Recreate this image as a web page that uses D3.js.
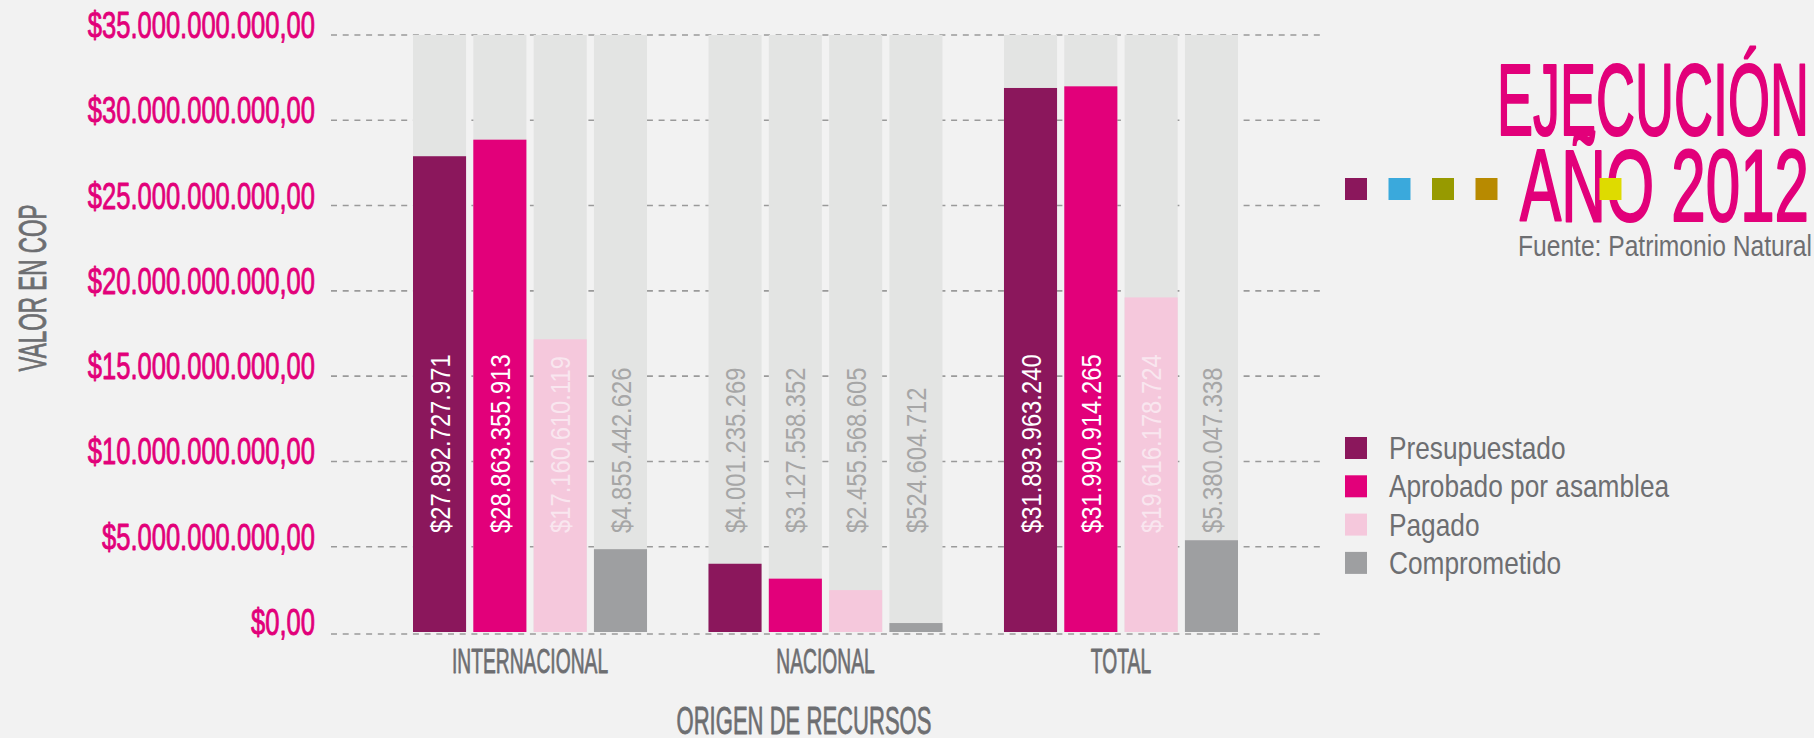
<!DOCTYPE html>
<html>
<head>
<meta charset="utf-8">
<script src="https://cdn.jsdelivr.net/npm/d3@7"></script>
<style>
  html, body { margin: 0; padding: 0; background: #f2f2f2; }
  svg { display: block; }
  text { font-family: "Liberation Sans", Arial, sans-serif; }
</style>
</head>
<body>
<svg id="chart" width="1814" height="738"></svg>
<script>
// Ejecución año 2012, valores en COP
const categories = ["INTERNACIONAL", "NACIONAL", "TOTAL"];
const seriesNames = ["Presupuestado", "Aprobado por asamblea", "Pagado", "Comprometido"];
const presupuestado = [27892727971, 4001235269, 31893963240];
const aprobado = [28863355913, 3127558352, 31990914265];
const pagado = [17160610119, 2455568605, 19616178724];
const comprometido = [4855442626, 524604712, 5380047338];
const yTicks = [0, 5e9, 10e9, 15e9, 20e9, 25e9, 30e9, 35e9];
const yMax = 35e9;

const seriesColors = ["#8b175c", "#e2007a", "#f5c8dc", "#9e9fa1"];
const labelColors = ["#ffffff", "#ffffff", "#f9e6ef", "#a6a6a6"];
const dotColors = ["#8b175c", "#3aa9dc", "#979a00", "#b88a00", "#dedb00"];

const values = [presupuestado, aprobado, pagado, comprometido];

const svg = d3.select("#chart");
const magenta = "#e2007a", grey = "#6d6e71";

const locale = d3.formatLocale({decimal: ",", thousands: ".", grouping: [3], currency: ["$", ""]});
const fmtTick = locale.format("$,.2f");
const fmtVal = locale.format("$,.0f");

// squeeze text horizontally to mimic the condensed face
function squeeze(sel, ratio) {
    sel.each(function() {
        let len = this.getComputedTextLength();
        d3.select(this).attr("textLength", len * ratio).attr("lengthAdjust", "spacingAndGlyphs");
    });
}
function fitTo(sel, width) {
    sel.attr("textLength", width).attr("lengthAdjust", "spacingAndGlyphs");
}
// fake the heavier weight of the condensed face
function heavy(sel, color, w) {
    sel.attr("stroke", color).attr("stroke-width", w).attr("stroke-linejoin", "round");
}

let y = d3.scaleLinear().domain([0, yMax]).range([632, 35]);
let x0 = d3.scaleBand().domain(categories).range([413, 1238]).paddingInner(0.208);
let x1 = d3.scaleBand().domain(d3.range(seriesNames.length)).range([0, x0.bandwidth()]).paddingInner(0.12);

// grid
svg.append("g").selectAll("line")
    .data(yTicks)
    .join("line")
    .attr("x1", 331).attr("x2", 1325)
    .attr("y1", d => y(d) + (d === 0 ? 2 : 0))
    .attr("y2", d => y(d) + (d === 0 ? 2 : 0))
    .attr("stroke", "#9a9a9a")
    .attr("stroke-width", 1.6)
    .attr("stroke-dasharray", "6,5.7");

// y tick labels
svg.append("g").selectAll("text")
    .data(yTicks)
    .join("text")
    .attr("x", 315)
    .attr("y", d => y(d) + 3)
    .attr("text-anchor", "end")
    .attr("font-size", 37)
    .attr("fill", magenta)
    .text(d => fmtTick(d))
    .call(squeeze, 0.69)
    .call(heavy, magenta, 0.9);

// bars
let groups = svg.append("g").selectAll("g")
    .data(categories)
    .join("g")
    .attr("transform", d => `translate(${x0(d)},0)`);

let cells = groups.selectAll("g")
    .data((c, ci) => values.map((s, si) => ({si, value: s[ci]})))
    .join("g");

cells.append("rect")
    .attr("x", d => x1(d.si))
    .attr("width", x1.bandwidth())
    .attr("y", y(yMax))
    .attr("height", y(0) - y(yMax))
    .attr("fill", "#e3e4e3");

cells.append("rect")
    .attr("x", d => x1(d.si))
    .attr("width", x1.bandwidth())
    .attr("y", d => y(d.value))
    .attr("height", d => y(0) - y(d.value))
    .attr("fill", d => seriesColors[d.si]);

let labelStart = 533;
cells.append("text")
    .attr("transform", d => `translate(${x1(d.si) + x1.bandwidth() / 2},${labelStart}) rotate(-90)`)
    .attr("dy", "0.36em")
    .attr("font-size", 28)
    .text(d => fmtVal(d.value))
    .call(squeeze, 0.85)
    .attr("fill", function(d) {
        let top = labelStart - this.getComputedTextLength();
        return y(d.value) <= top ? labelColors[d.si] : "#a6a6a6";
    });

// category labels
svg.append("g").selectAll("text")
    .data(categories)
    .join("text")
    .attr("x", d => x0(d) + x0.bandwidth() / 2)
    .attr("y", 673)
    .attr("text-anchor", "middle")
    .attr("font-size", 35)
    .attr("fill", grey)
    .text(d => d)
    .call(squeeze, 0.55)
    .call(heavy, grey, 0.8);

// axis titles
svg.append("text")
    .attr("x", 804).attr("y", 734)
    .attr("text-anchor", "middle")
    .attr("font-size", 39)
    .attr("fill", grey)
    .text("ORIGEN DE RECURSOS")
    .call(fitTo, 255)
    .call(heavy, grey, 0.8);

svg.append("text")
    .attr("transform", "translate(46,288) rotate(-90)")
    .attr("text-anchor", "middle")
    .attr("font-size", 39)
    .attr("fill", grey)
    .text("VALOR EN COP")
    .call(fitTo, 167)
    .call(heavy, grey, 0.8);

// title block
svg.append("text")
    .attr("x", 1809).attr("y", 135)
    .attr("text-anchor", "end")
    .attr("font-size", 102)
    .attr("fill", magenta)
    .text("EJECUCIÓN")
    .call(fitTo, 312)
    .call(heavy, magenta, 2.2);

svg.append("text")
    .attr("x", 1809).attr("y", 221)
    .attr("text-anchor", "end")
    .attr("font-size", 102)
    .attr("fill", magenta)
    .text("AÑO 2012")
    .call(fitTo, 289)
    .call(heavy, magenta, 2.2);

svg.append("text")
    .attr("x", 1812).attr("y", 256)
    .attr("text-anchor", "end")
    .attr("font-size", 30)
    .attr("fill", grey)
    .text("Fuente: Patrimonio Natural")
    .call(squeeze, 0.82);

let dotX = d3.scaleLinear().domain([0, 1]).range([1345, 1388.5]);
svg.append("g").selectAll("rect")
    .data(dotColors)
    .join("rect")
    .attr("x", (d, i) => dotX(i < 4 ? i : 5.85))
    .attr("y", 178)
    .attr("width", 22).attr("height", 22)
    .attr("fill", d => d);

// legend
let legend = svg.append("g").attr("transform", "translate(1345,437)");
let items = legend.selectAll("g")
    .data(seriesNames)
    .join("g")
    .attr("transform", (d, i) => `translate(0,${i * 38.3})`);
items.append("rect")
    .attr("width", 22).attr("height", 22)
    .attr("fill", (d, i) => seriesColors[i]);
items.append("text")
    .attr("x", 44).attr("y", 22)
    .attr("font-size", 32)
    .attr("fill", grey)
    .text(d => d)
    .call(squeeze, 0.82);
</script>
</body>
</html>
